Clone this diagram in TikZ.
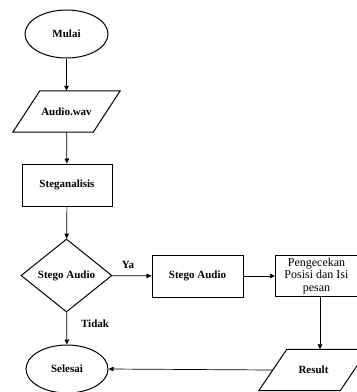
\documentclass[tikz,border=0pt]{standalone}
\usepackage{fontspec}
\setmainfont{Liberation Serif}
\usetikzlibrary{shapes.geometric,arrows.meta}
\begin{document}
\begin{tikzpicture}[x=1pt,y=-1pt,
  every node/.style={font=\bfseries\fontsize{11}{12.5}\selectfont, inner sep=0pt},
  shp/.style={draw, line width=1pt},
  conn/.style={draw, line width=0.7pt, -{Triangle[length=5pt,width=4.5pt]}},
  lbl/.style={font=\bfseries\fontsize{11}{12}\selectfont}]
\useasboundingbox (0,0) rectangle (357,392);
\node[shp, ellipse, minimum width=83, minimum height=48] (mulai) at (66.5,34) {Mulai};
\node[minimum width=80, minimum height=41] (audio) at (66.5,111.5) {Audio.wav};
\draw[shp] ([xshift=13.5]audio.north west) -- ([xshift=13.5]audio.north east) -- ([xshift=-13.5]audio.south east) -- ([xshift=-13.5]audio.south west) -- cycle;
\node[shp, rectangle, minimum width=90, minimum height=42] (stegan) at (67,185) {Steganalisis};
\node[shp, diamond, aspect=1.25, minimum width=91, minimum height=73] (dec) at (66.5,275.5) {Stego Audio};
\node[shp, ellipse, minimum width=82, minimum height=48] (selesai) at (67,369) {Selesai};
\node[shp, rectangle, minimum width=91, minimum height=42] (stego) at (197.5,276) {Stego Audio};
\node[shp, rectangle, minimum width=82, minimum height=41, align=center, font=\fontsize{12}{12.5}\selectfont] (cek) at (316.5,276) {Pengecekan\\Posisi dan Isi\\pesan};
\node[minimum width=81, minimum height=41] (result) at (313.5,370) {Result};
\draw[shp] ([xshift=14]result.north west) -- ([xshift=14]result.north east) -- ([xshift=-14]result.south east) -- ([xshift=-14]result.south west) -- cycle;
\coordinate (cekb) at ([xshift=3.5]cek.south);
\path[conn] (mulai) -- (audio);
\path[conn] (audio) -- (stegan);
\path[conn] (stegan) -- (dec);
\path[conn] (dec) -- node[lbl, pos=0.35, right=14pt] {Tidak} (selesai);
\path[conn] (dec) -- node[lbl, pos=0.4, above=7pt] {Ya} (stego);
\path[conn] (stego) -- (cek);
\path[conn] (cekb) -- (cekb |- result.north);
\path[conn] (result.west) -- (selesai.east);
\end{tikzpicture}
\end{document}
